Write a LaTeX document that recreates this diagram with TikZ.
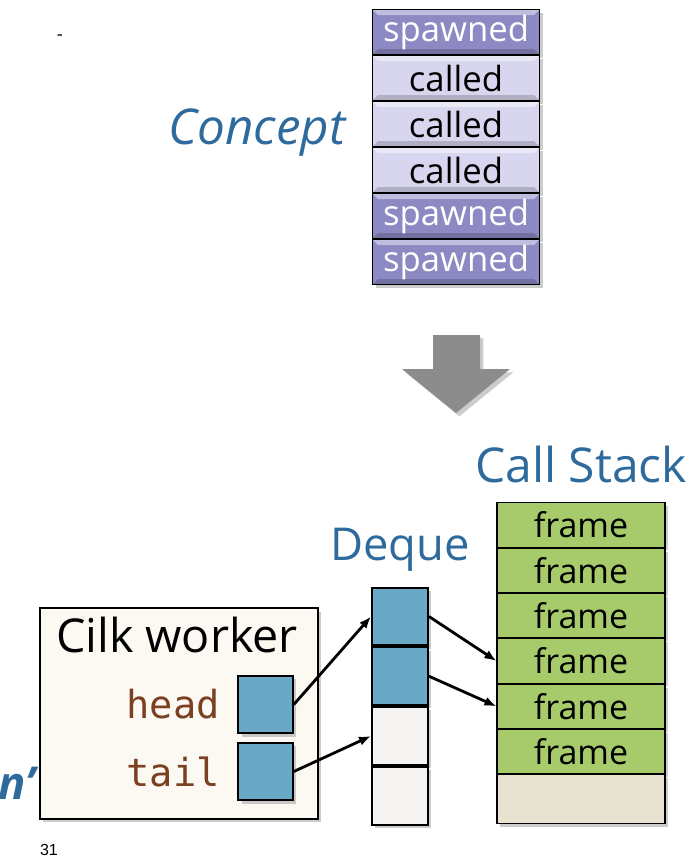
\documentclass[tikz,border=0pt]{standalone}
\usepackage{fontspec}
\setmainfont{Open Sans}
\newfontfamily\codefont{DejaVu Sans Mono}
\newfontfamily\pagefont{Liberation Sans}
\usepackage{xcolor}
\usepackage{tikz}
\usetikzlibrary{arrows.meta, positioning, shadows}

\definecolor{TitleBlue}{HTML}{2E6B9C}
\definecolor{SpawnPurple}{HTML}{8C89C3}
\definecolor{CalledLilac}{HTML}{D7D6EE}
\definecolor{CellBlue}{HTML}{6AA9C5}
\definecolor{EmptyGrey}{HTML}{F5F4F2}
\definecolor{FrameGreen}{HTML}{A7CB6B}
\definecolor{BaseBeige}{HTML}{E8E3D1}
\definecolor{WorkerCream}{HTML}{FCF8F2}
\definecolor{CodeBrown}{HTML}{7B3F22}
\definecolor{ArrowGrey}{HTML}{8C8C8C}

\begin{document}
\begin{tikzpicture}[
  x=0.75pt, y=-0.75pt,
  node distance=0pt,
  title/.style={text=TitleBlue, font=\fontsize{34}{40}\selectfont},
  shade/.style={drop shadow={opacity=.4, shadow xshift=2.5pt, shadow yshift=-2.5pt}},
  bevel/.style={path picture={
    \fill[white, opacity=.45] (path picture bounding box.north west) -- (path picture bounding box.north east)
      -- ([xshift=-4pt,yshift=-4pt]path picture bounding box.north east) -- ([xshift=4pt,yshift=-4pt]path picture bounding box.north west) -- cycle;
    \fill[black, opacity=.18] (path picture bounding box.south west) -- (path picture bounding box.south east)
      -- ([xshift=-4pt,yshift=4pt]path picture bounding box.south east) -- ([xshift=4pt,yshift=4pt]path picture bounding box.south west) -- cycle;}},
  slot/.style={draw, line width=1pt, bevel, shade, minimum width=125pt, minimum height=33.5pt, inner sep=0pt, font=\fontsize{26}{30}\selectfont},
  spawned/.style={slot, fill=SpawnPurple, text=white},
  called/.style={slot, fill=CalledLilac, text=black},
  frame/.style={draw, line width=0.8pt, fill=FrameGreen, shade, minimum width=126pt, minimum height=33.2pt, inner sep=0pt, font=\fontsize{25.5}{30}\selectfont},
  cell/.style={draw, line width=1.5pt, shade, minimum width=42pt, minimum height=43.3pt, inner sep=0pt},
  full/.style={cell, fill=CellBlue},
  empty/.style={cell, fill=EmptyGrey},
  ptr/.style={draw, line width=1.5pt, fill=CellBlue, shade, minimum width=41pt, minimum height=43pt, inner sep=0pt},
  code/.style={text=CodeBrown, font=\codefont\fontsize{29}{34}\selectfont, inner sep=0pt},
  arrow/.style={-{Latex[length=9pt, width=7pt]}, line width=2.1pt}
]
\useasboundingbox (0,0) rectangle (696,858);

% Concept
\node[font=\fontsize{14}{16}\selectfont] (dash) at (60,38) {-};
\node[title, font=\itshape\fontsize{37}{44}\selectfont] (cn) at (257,133) {Concept};
\node[spawned] (c1) at (456,32) {spawned};
\node[called, below=of c1] (c2) {called};
\node[called, below=of c2] (c3) {called};
\node[called, below=of c3] (c4) {called};
\node[spawned, below=of c4] (c5) {spawned};
\node[spawned, below=of c5] (c6) {spawned};

% Big arrow
\fill[ArrowGrey, shade] (433,335) -- (480,335) -- (480,369) -- (510,369) -- (456,413) -- (402,369) -- (433,369) -- cycle;

% Call stack
\node[title, font=\fontsize{36}{42}\selectfont] (cs) at (581,464) {Call Stack};
\node[frame] (f1) at (581,525) {frame};
\node[frame, below=of f1] (f2) {frame};
\node[frame, below=of f2] (f3) {frame};
\node[frame, below=of f3] (f4) {frame};
\node[frame, below=of f4] (f5) {frame};
\node[frame, below=of f5] (f6) {frame};
\node[frame, fill=BaseBeige, minimum height=36.8pt, below=of f6] (fb) {};

% Deque
\node[title] (dq) at (400,550) {Deque};
\node[full] (d1) at (400,616.5) {};
\node[full, below=of d1] (d2) {};
\node[empty, below=of d2] (d3) {};
\node[empty, below=of d3] (d4) {};

% Worker
\node[draw, line width=1.5pt, fill=WorkerCream, shade, minimum width=208.5pt, minimum height=158pt] (w) at (179,713.5) {};
\node[font=\fontsize{35}{40}\selectfont] (wl) at (177,635) {Cilk worker};
\node[ptr] (hp) at (265.5,704.5) {};
\node[ptr] (tp) at (265.5,771.5) {};
\node[code, left=13pt of hp] (hl) {head};
\node[code, left=13pt of tp] (tl) {tail};
\node[text=TitleBlue, font=\bfseries\itshape\fontsize{34}{40}\selectfont, anchor=east] (nq) at (40,783) {n'};
\node[font=\pagefont\fontsize{12}{14}\selectfont] (pg) at (49,850) {31};

% Pointers
\draw[arrow] (hp.east) -- (d1.west);
\draw[arrow] (tp.east) -- (d3.west);
\draw[arrow] (d1.east) -- (f4.west);
\draw[arrow] (d2.east) -- (f5.west);
\end{tikzpicture}
\end{document}
